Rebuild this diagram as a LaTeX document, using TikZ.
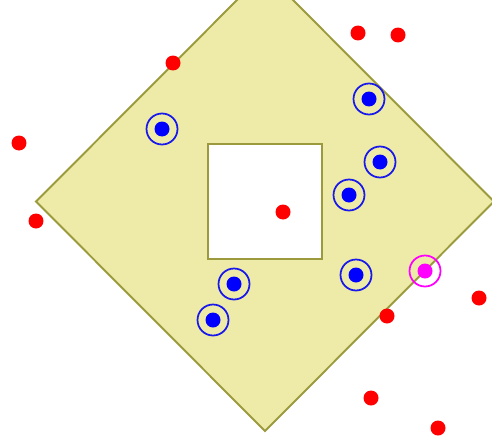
\documentclass[tikz,border=0pt]{standalone}
\usepackage{tikz}
\usetikzlibrary{positioning}
\definecolor{regionfill}{RGB}{238,235,168}
\definecolor{regionedge}{RGB}{155,155,62}
\definecolor{ringblue}{RGB}{25,25,235}
\definecolor{pink}{RGB}{255,0,255}

\begin{document}
\begin{tikzpicture}[
    x=0.02cm, y=-0.02cm,
    region/.style={fill=regionfill, draw=regionedge, line width=1.1pt, line join=miter},
    hole/.style={fill=white, draw=regionedge, line width=1.1pt},
    dot/.style={circle, inner sep=0pt, minimum size=0.3cm},
    reddot/.style={dot, fill=red},
    bluedot/.style={dot, fill=blue},
    pinkdot/.style={dot, fill=pink},
    ring/.style={circle, draw=ringblue, line width=1pt, inner sep=0pt, minimum size=0.62cm},
    pinkring/.style={ring, draw=pink}
]
    \useasboundingbox (0,0) rectangle (492,439);
    \clip (0,0) rectangle (492,439);

    % rotated square with its hole
    \draw[region] (265,-28) -- (494,201.5) -- (265,431) -- (36,201.5) -- cycle;
    \draw[hole] (208,144) rectangle (322,259);

    % points outside the region
    \node[reddot] (r1) at (358,33) {};
    \node[reddot] (r2) at (398,35) {};
    \node[reddot] (r3) at (173,63) {};
    \node[reddot] (r4) at (19,143) {};
    \node[reddot] (r5) at (36,221) {};
    \node[reddot] (r6) at (283,212) {};
    \node[reddot] (r7) at (479,298) {};
    \node[reddot] (r8) at (387,316) {};
    \node[reddot] (r9) at (371,398) {};
    \node[reddot] (r10) at (438,428) {};

    % points inside the region
    \foreach \p/\x/\y in {b1/162/129, b2/369/99, b3/380/162, b4/349/195, b5/356/275, b6/234/284, b7/213/320} {
        \node[ring] (\p ring) at (\x,\y) {};
        \node[bluedot] (\p) at (\x,\y) {};
    }

    % point on the border
    \node[pinkring] (m1ring) at (425,271) {};
    \node[pinkdot] (m1) at (425,271) {};
\end{tikzpicture}
\end{document}
